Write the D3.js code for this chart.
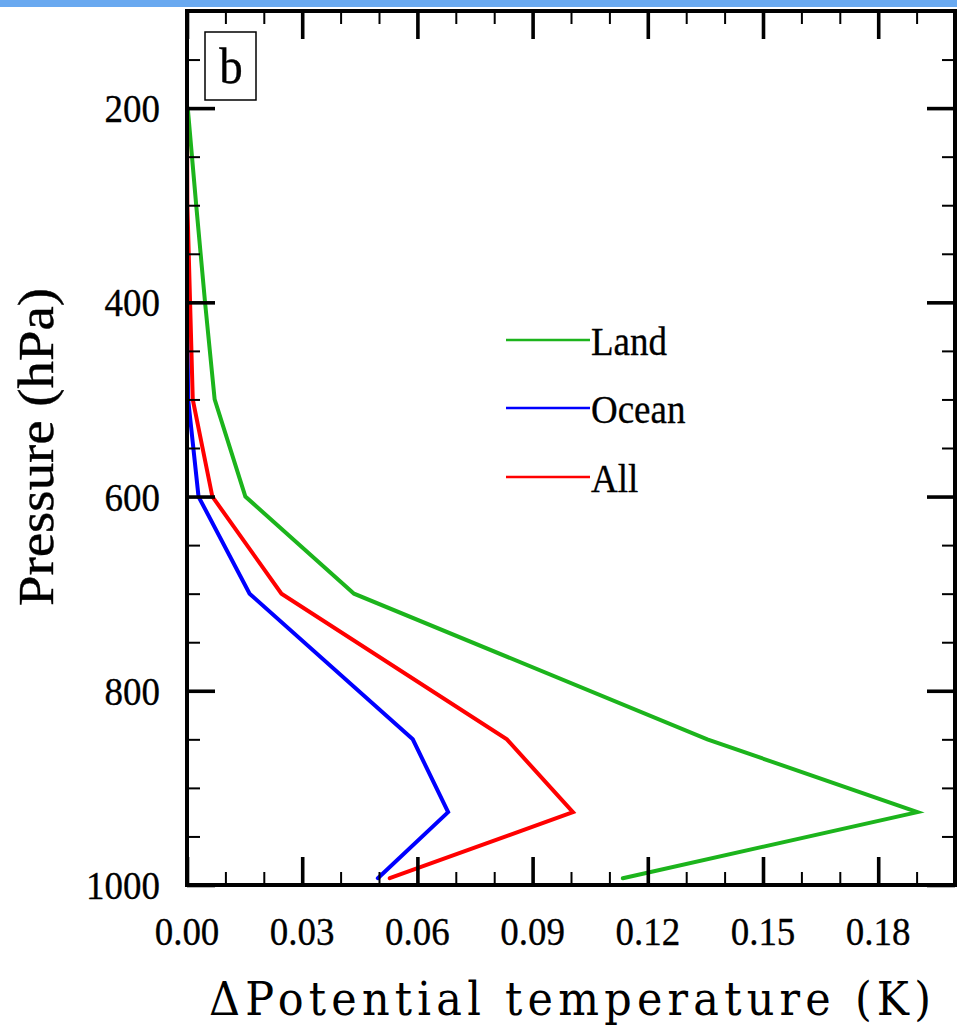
<!DOCTYPE html>
<html>
<head>
<meta charset="utf-8">
<script src="https://cdn.jsdelivr.net/npm/d3@7"></script>
<style>
  html, body { margin: 0; padding: 0; background: #fff; }
  svg { display: block; }
</style>
</head>
<body>
<svg id="chart" width="967" height="1029"></svg>
<script>
// ---- data ----
const levels = [200, 300, 400, 500, 600, 700, 850, 925, 993];
const landValues  = [0.0002, 0.0024, 0.0047, 0.0072, 0.0152, 0.0435, 0.1355, 0.1902, 0.1135];
const oceanValues = [0.0000, 0.0000, 0.0000, 0.0003, 0.0030, 0.0163, 0.0588, 0.0680, 0.0497];
const allValues   = [0.0000, 0.0001, 0.0008, 0.0015, 0.0066, 0.0246, 0.0833, 0.1005, 0.0528];
const seriesNames = ["Land", "Ocean", "All"];
const seriesColors = ["#1cb41c", "#0000ff", "#ff0000"];
const xMajorTicks = [0, 0.03, 0.06, 0.09, 0.12, 0.15, 0.18];
const xTickLabels = ["0.00", "0.03", "0.06", "0.09", "0.12", "0.15", "0.18"];
const xMinorTicks = [0.01, 0.02, 0.04, 0.05, 0.07, 0.08, 0.10, 0.11, 0.13, 0.14, 0.16, 0.17, 0.19];
const yMajorTicks = [200, 400, 600, 800, 1000];
const yTickLabels = ["200", "400", "600", "800", "1000"];
const yMinorTicks = [150, 250, 300, 350, 450, 500, 550, 650, 700, 750, 850, 900, 950];
const panelLabel = "b";
const xTitle = "\u0394Potential temperature (K)";
const yTitle = "Pressure (hPa)";

// ---- layout ----
const SERIF = "Liberation Serif";
const TITLE_SERIF = "DejaVu Serif";
const svg = d3.select("#chart");
const L = 187, R = 955, T = 11, B = 885;
const x = d3.scaleLinear().domain([0, 0.2]).range([L, R]);
const y = d3.scaleLinear().domain([100, 1000]).range([T, B]);
const SY = 1.1; // vertical stretch of the text in the original

// header bar
svg.append("rect").attr("x", 0).attr("y", 0).attr("width", 957).attr("height", 7).attr("fill", "#69a9f0");

// lines
const series = [landValues, oceanValues, allValues];
const line = d3.line().x(d => x(d[0])).y(d => y(d[1]));
series.forEach((vals, i) => {
  svg.append("path")
    .datum(vals.map((v, j) => [v, levels[j]]))
    .attr("d", line)
    .attr("fill", "none")
    .attr("stroke", seriesColors[i])
    .attr("stroke-width", 4)
    .attr("stroke-linejoin", "miter")
    .attr("stroke-linecap", "round");
});

// axes ticks (inward on all sides)
function styleAxis(g, w) {
  g.select(".domain").remove();
  g.selectAll(".tick line").attr("stroke", "#000").attr("stroke-width", w);
  g.selectAll(".tick text").remove();
}
const majW = 3.6, minW = 2;
svg.append("g").attr("transform", `translate(0,${B})`)
  .call(d3.axisBottom(x).tickValues(xMajorTicks).tickSize(-28).tickFormat(""))
  .call(g => styleAxis(g, majW));
svg.append("g").attr("transform", `translate(0,${B})`)
  .call(d3.axisBottom(x).tickValues(xMinorTicks).tickSize(-13).tickFormat(""))
  .call(g => styleAxis(g, minW));
svg.append("g").attr("transform", `translate(0,${T})`)
  .call(d3.axisTop(x).tickValues(xMajorTicks).tickSize(-28).tickFormat(""))
  .call(g => styleAxis(g, majW));
svg.append("g").attr("transform", `translate(0,${T})`)
  .call(d3.axisTop(x).tickValues(xMinorTicks).tickSize(-13).tickFormat(""))
  .call(g => styleAxis(g, minW));
svg.append("g").attr("transform", `translate(${L},0)`)
  .call(d3.axisLeft(y).tickValues(yMajorTicks).tickSize(-28).tickFormat(""))
  .call(g => styleAxis(g, majW));
svg.append("g").attr("transform", `translate(${L},0)`)
  .call(d3.axisLeft(y).tickValues(yMinorTicks).tickSize(-13).tickFormat(""))
  .call(g => styleAxis(g, minW));
svg.append("g").attr("transform", `translate(${R},0)`)
  .call(d3.axisRight(y).tickValues(yMajorTicks).tickSize(-28).tickFormat(""))
  .call(g => styleAxis(g, majW));
svg.append("g").attr("transform", `translate(${R},0)`)
  .call(d3.axisRight(y).tickValues(yMinorTicks).tickSize(-13).tickFormat(""))
  .call(g => styleAxis(g, minW));

// frame
svg.append("rect").attr("x", L).attr("y", T).attr("width", R - L).attr("height", B - T)
  .attr("fill", "none").attr("stroke", "#000").attr("stroke-width", 4);

// stretched text helper
function stext(tx, ty, str, size, anchor, thick, family) {
  const g = svg.append("g").attr("transform", `translate(${tx},${ty}) scale(1,${SY})`);
  const t = g.append("text").attr("x", 0).attr("y", 0)
    .attr("font-family", family || SERIF)
    .attr("font-size", size).attr("text-anchor", anchor)
    .attr("fill", "#000")
    .text(str);
  if (thick) t.attr("stroke", "#000").attr("stroke-width", thick);
  return t;
}

// tick labels
xMajorTicks.forEach((v, i) => stext(x(v), 945, xTickLabels[i], 37, "middle", 0.3));
yMajorTicks.forEach((v, i) => stext(160, y(v) + 14, yTickLabels[i], 37, "end", 0.3));

// axis titles
svg.append("text")
  .attr("transform", `translate(53,447) rotate(-90)`)
  .attr("font-family", SERIF)
  .attr("text-anchor", "middle")
  .attr("font-size", 50)
  .attr("fill", "#000")
  .attr("stroke", "#000").attr("stroke-width", 0.4)
  .attr("textLength", 318)
  .attr("lengthAdjust", "spacingAndGlyphs")
  .text(yTitle);
stext(209, 1015, xTitle, 43, "start", 0, TITLE_SERIF)
  .attr("textLength", 722).attr("lengthAdjust", "spacing");

// panel label
svg.append("rect").attr("x", 205).attr("y", 32).attr("width", 51).attr("height", 68)
  .attr("fill", "#fff").attr("stroke", "#000").attr("stroke-width", 1.5);
stext(231, 83, panelLabel, 47, "middle", 0.3);

// legend
const legY = [340, 408, 477];
seriesNames.forEach((n, i) => {
  svg.append("line").attr("x1", 506).attr("x2", 590).attr("y1", legY[i]).attr("y2", legY[i])
    .attr("stroke", seriesColors[i]).attr("stroke-width", 2.5);
  stext(591, legY[i] + 15, n, 37, "start", 0.3);
});
</script>
</body>
</html>
